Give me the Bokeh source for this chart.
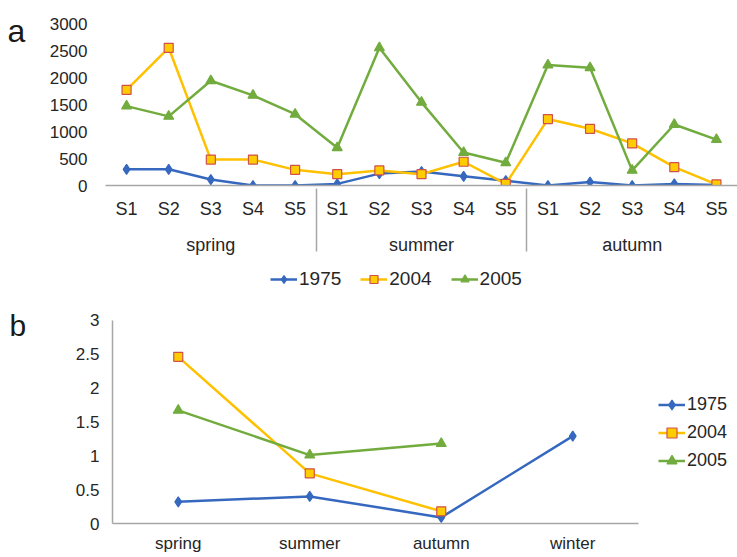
from bokeh.plotting import figure
from bokeh.models import (FactorRange, Range1d, FixedTicker, NumeralTickFormatter,
                          Legend, LegendItem)
from bokeh.core.properties import value
from bokeh.layouts import column, row
from bokeh.embed import file_html
from bokeh.resources import INLINE

# ---------------- data ----------------
seasons_a = ["spring", "summer", "autumn"]
sites = ["S1", "S2", "S3", "S4", "S5"]
a_1975 = [300, 300, 110, 0, 0, 30, 220, 260, 170, 90, 0, 65, 0, 30, 10]
a_2004 = [1770, 2550, 480, 480, 290, 210, 280, 210, 440, 30, 1230, 1050, 780, 340, 20]
a_2005 = [1470, 1280, 1940, 1670, 1320, 700, 2550, 1540, 610, 420, 2230, 2180, 280, 1130, 850]
a_ticks = [0, 500, 1000, 1500, 2000, 2500, 3000]

seasons_b = ["spring", "summer", "autumn", "winter"]
b_1975 = [0.32, 0.40, 0.09, 1.29]
b_2004 = [2.46, 0.74, 0.18]
b_2005 = [1.67, 1.01, 1.18]
b_ticks = [0, 0.5, 1, 1.5, 2, 2.5, 3]

years = ["1975", "2004", "2005"]
panel_letters = ["a", "b"]

# ---------------- style / layout ----------------
FONT = "Liberation Sans"
TXT = "#262626"
AX = "#A6A6A6"
C1975 = "#3568BE"
C2004 = "#FFC000"
C2004_EDGE = "#D0504A"
C2004_FILL = "#FFCC00"
C2005 = "#72AC3E"
LW = 2.5
LBLW = 30                    # width of the column holding the panel letters
HA, HLEG, HB = 262, 30, 263  # heights of row a, legend a, row b
FA_TOP, FA_H = 12, 173       # frame a: top border, height (3000 tick sits 11px below top)
FB_TOP, FB_H = 8, 226        # frame b: top border, height (3 tick sits 20px below top)
WB, WLEG = 609, 98
A_YMAX = a_ticks[-1] * FA_H / (FA_H - 11)
B_YMAX = b_ticks[-1] * FB_H / (FB_H - 20)

STYLES = [("diamond", C1975, C1975, C1975, 10),
          ("square", C2004, C2004_FILL, C2004_EDGE, 9),
          ("triangle", C2005, C2005, C2005, 10)]


def bare_fig(w, h, xr, yr):
    f = figure(width=w, height=h, x_range=xr, y_range=yr,
               x_axis_type=None, y_axis_type=None, min_border=0,
               output_backend="svg", toolbar_location=None)
    f.outline_line_color = None
    f.grid.visible = False
    return f


def letter_fig(letter, h, frame_h, x, y_from_top, size):
    # its frame is aligned with the chart frame next to it
    f = bare_fig(LBLW, h, Range1d(0, LBLW), Range1d(0, frame_h))
    f.text(x=[x], y=[frame_h - y_from_top], text=[letter], text_font=value(FONT),
           text_font_size=size, text_color="#1a1a1a", text_baseline="alphabetic",
           text_align="left")
    return f


def series_renderers(p, xs, ys, marker, color, fill, edge, size):
    ln = p.line(xs, ys, color=color, line_width=LW)
    sc = p.scatter(xs, ys, marker=marker, size=size, fill_color=fill,
                   line_color=edge, line_width=1.2)
    return [ln, sc]


def legend_fig(w, h, xfactors, series, loc, orientation, spacing, item_h, fsize):
    # series are drawn out of this figure's view; only the legend shows
    f = bare_fig(w, h, FactorRange(*xfactors), Range1d(-2, -1))
    items = []
    for yr, (xs, ys), st in zip(years, series, STYLES):
        rs = series_renderers(f, xs, ys, *st)
        items.append(LegendItem(label=yr, renderers=rs))
    f.add_layout(Legend(items=items, orientation=orientation, location=loc,
                        label_text_font=FONT, label_text_font_size=fsize,
                        label_text_color=TXT, glyph_width=27, glyph_height=item_h,
                        label_height=item_h, label_standoff=2, spacing=spacing,
                        padding=0, margin=0, border_line_color=None,
                        background_fill_alpha=0))
    return f


factors = [(s, st) for s in seasons_a for st in sites]

# ---------------- chart a ----------------
pa = figure(x_range=FactorRange(*factors, factor_padding=0, group_padding=0, range_padding=0),
            y_range=Range1d(0, A_YMAX), width=737 - LBLW, height=HA,
            min_border_left=105 - LBLW, min_border_right=0, min_border_top=FA_TOP,
            min_border_bottom=HA - FA_TOP - FA_H, output_backend="svg", toolbar_location=None)
pa.outline_line_color = None
pa.xgrid.visible = False
pa.ygrid.visible = False

ya = pa.yaxis[0]
ya.ticker = FixedTicker(ticks=a_ticks)
ya.formatter = NumeralTickFormatter(format="0")
ya.axis_line_color = None
ya.major_tick_line_color = None
ya.minor_tick_line_color = None
ya.major_tick_out = 0
ya.major_label_standoff = 18
ya.major_label_text_font = FONT
ya.major_label_text_font_size = "17px"
ya.major_label_text_color = TXT

xa = pa.xaxis[0]
xa.axis_line_color = AX
xa.axis_line_width = 1.5
xa.major_tick_line_color = None
xa.major_tick_out = 0
xa.major_label_standoff = 13
xa.major_label_text_font = FONT
xa.major_label_text_font_size = "18px"
xa.major_label_text_color = TXT
xa.group_text_font = FONT
xa.group_text_font_size = "18px"
xa.group_text_font_style = "normal"
xa.group_text_color = TXT
xa.separator_line_color = AX
xa.separator_line_width = 1.5

for ys, st in zip([a_1975, a_2004, a_2005], STYLES):
    series_renderers(pa, factors, ys, *st)

# ---------------- chart b ----------------
pb = figure(x_range=FactorRange(*seasons_b, factor_padding=0, range_padding=0),
            y_range=Range1d(0, B_YMAX), width=WB, height=HB,
            min_border_left=112 - LBLW, min_border_right=1, min_border_top=FB_TOP,
            min_border_bottom=HB - FB_TOP - FB_H, output_backend="svg", toolbar_location=None)
pb.outline_line_color = None
pb.xgrid.visible = False
pb.ygrid.visible = False

yb = pb.yaxis[0]
yb.ticker = FixedTicker(ticks=b_ticks)
yb.formatter = NumeralTickFormatter(format="0.[0]")
yb.bounds = (b_ticks[0], b_ticks[-1])
yb.axis_line_color = AX
yb.axis_line_width = 1.5
yb.major_tick_line_color = None
yb.minor_tick_line_color = None
yb.major_tick_out = 0
yb.major_label_standoff = 13
yb.major_label_text_font = FONT
yb.major_label_text_font_size = "17px"
yb.major_label_text_color = TXT

xb = pb.xaxis[0]
xb.axis_line_color = AX
xb.axis_line_width = 1.5
xb.major_tick_line_color = None
xb.major_tick_out = 0
xb.major_label_standoff = 10
xb.major_label_text_font = FONT
xb.major_label_text_font_size = "17px"
xb.major_label_text_color = TXT

b_series = [(seasons_b[:len(ys)], ys) for ys in [b_1975, b_2004, b_2005]]
for (xs, ys), st in zip(b_series, STYLES):
    series_renderers(pb, xs, ys, *st)

# ---------------- letters and legends ----------------
la_fig = letter_fig(panel_letters[0], HA, FA_H, 7, 30 - FA_TOP, "32px")
lb_fig = letter_fig(panel_letters[1], HB, FB_H, 9, 325 - (HA + HLEG + FB_TOP), "30px")
a_series = [(factors, ys) for ys in [a_1975, a_2004, a_2005]]
leg_a_fig = legend_fig(737, HLEG, factors, a_series, (270, 2), "horizontal", 19, 20, "19px")
leg_b_fig = legend_fig(WLEG, HB, seasons_b, b_series, (19, 50), "vertical", 3, 25, "18px")

layout = column(row(la_fig, pa, spacing=0),
                leg_a_fig,
                row(lb_fig, pb, leg_b_fig, spacing=0),
                spacing=0)
open("out.html", "w").write(file_html(layout, INLINE))
